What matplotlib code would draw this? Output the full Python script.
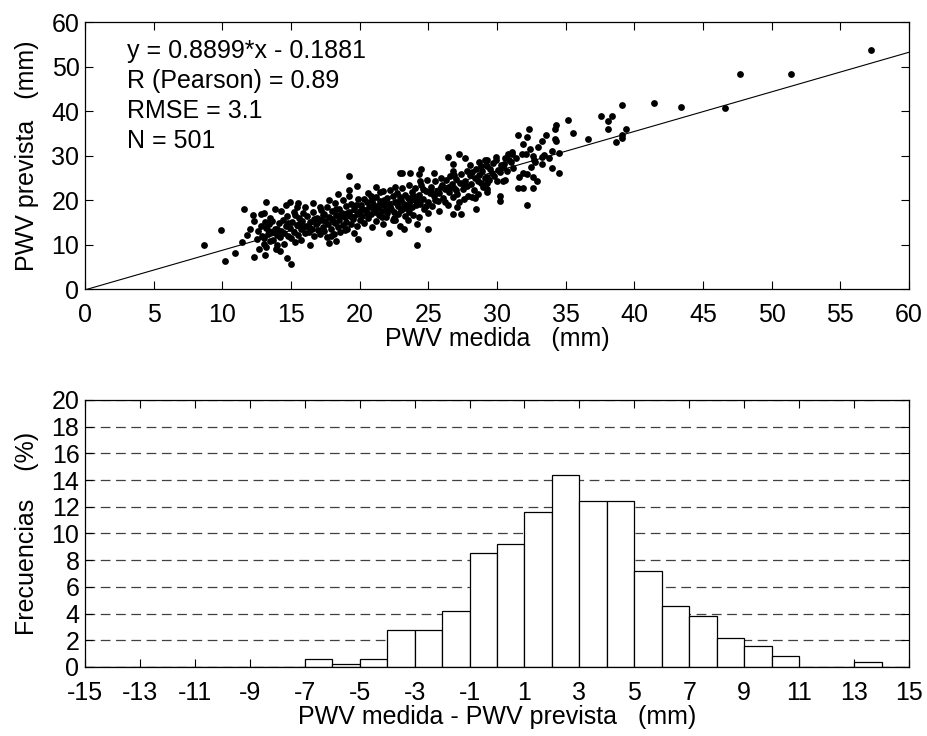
import matplotlib
matplotlib.use("Agg")
import matplotlib.pyplot as plt
import numpy as np

plt.rcParams['font.family'] = ['Liberation Sans', 'DejaVu Sans']
plt.rcParams['font.size'] = 18
plt.rcParams['lines.scale_dashes'] = False
plt.rcParams['axes.unicode_minus'] = False

# valores (PWV medida, PWV prevista) en mm
pwv_medida = [
    8.7, 9.9, 10.2, 10.9, 11.6, 11.4, 11.8, 12.0, 12.2, 12.3, 12.3, 12.7, 13.0, 13.1, 13.0, 13.1, 13.2,
    12.5, 12.6, 12.8, 12.9, 13.0, 13.2, 13.3, 13.4, 13.5, 13.5, 13.6, 13.7, 13.8, 13.8, 13.9, 14.0,
    14.0, 14.1, 14.2, 14.3, 14.3, 14.4, 14.5, 14.5, 14.6, 14.7, 14.7, 14.8, 14.9, 14.9, 15.0, 15.0,
    15.1, 15.2, 15.2, 15.3, 15.4, 15.4, 15.5, 15.5, 15.6, 15.7, 15.7, 15.8, 15.9, 15.9, 16.0, 16.0,
    13.6, 14.2, 13.2, 14.6, 12.8, 15.3, 14.0, 13.4, 14.8, 15.6,
    16.4, 17.8, 18.3, 19.9, 19.2, 19.8, 19.2, 18.4, 16.6, 17.1, 17.8,
    16.1, 16.2, 16.3, 16.4, 16.5, 16.6, 16.7, 16.8, 16.9, 17.0, 17.0, 17.1, 17.2, 17.3, 17.3, 17.4,
    17.5, 17.6, 17.6, 17.7, 17.8, 17.9, 18.0, 18.0, 18.1, 18.2, 18.2, 18.3, 18.4, 18.5, 18.5, 18.6,
    18.7, 18.8, 18.8, 18.9, 19.0, 19.0, 19.1, 19.2, 19.2, 19.3, 19.4, 19.4, 19.5, 19.6, 19.6, 19.7,
    19.8, 19.8, 19.9, 20.0, 20.0, 16.3, 16.9, 17.4, 18.1, 18.6, 19.1, 19.5, 17.2, 18.3, 16.7, 17.9, 18.9,
    21.2, 21.7, 20.6, 22.6, 22.9, 22.1, 22.6, 23.2, 23.5, 24.2, 24.3, 24.2, 23.1, 23.7, 24.5, 24.3,
    20.1, 20.2, 20.3, 20.3, 20.4, 20.5, 20.6, 20.7, 20.8, 20.8, 20.9, 21.0, 21.1, 21.2, 21.2, 21.3,
    21.4, 21.5, 21.5, 21.6, 21.7, 21.8, 21.9, 22.0, 22.0, 22.1, 22.2, 22.3, 22.4, 22.4, 22.5, 22.6,
    22.7, 22.8, 22.8, 22.9, 23.0, 23.0, 23.1, 23.2, 23.3, 23.3, 23.4, 23.5, 23.6, 23.6, 23.7, 23.8,
    23.8, 23.9, 24.0, 24.0, 24.1, 24.2, 20.5, 21.0, 21.4, 21.9, 22.2, 22.7, 23.1, 23.5, 20.9, 21.8,
    22.9, 20.2, 21.6, 22.5, 23.9,
    25.4, 26.8, 27.8, 27.2, 26.4, 27.7, 26.8, 27.1, 26.8, 27.4, 25.0, 25.0, 28.5, 28.4,
    24.3, 24.4, 24.5, 24.6, 24.7, 24.8, 24.9, 25.0, 25.1, 25.2, 25.3, 25.4, 25.5, 25.6, 25.7, 25.8,
    25.9, 26.0, 26.1, 26.2, 26.3, 26.4, 26.5, 26.6, 26.7, 26.8, 26.9, 27.0, 27.1, 27.2, 27.3, 27.4,
    27.5, 27.6, 27.7, 27.8, 27.9, 28.0, 24.6, 25.2, 25.9, 26.5, 27.0, 27.6, 24.8, 26.2, 25.5, 26.9,
    24.4, 25.8,
    28.7, 29.1, 29.3, 28.8, 29.9, 29.9, 29.3, 30.6, 31.0, 30.4, 30.5, 30.1, 30.2, 30.0, 30.4, 30.6,
    31.6, 31.9, 32.2, 31.5, 31.9, 30.2, 30.2, 32.2, 29.3, 29.3, 29.3, 29.3, 29.4, 31.1, 31.1, 31.8,
    32.1, 31.5, 31.9,
    28.1, 28.2, 28.3, 28.4, 28.5, 28.6, 28.7, 28.8, 28.9, 29.0, 29.1, 29.5, 29.6, 29.7, 29.8, 30.3,
    30.7, 30.8, 31.2, 31.4, 28.2, 28.6, 29.2, 30.9, 28.0,
    32.3, 32.2, 33.6, 33.3, 34.2, 34.3, 34.0, 34.5, 32.6, 32.7, 33.3, 33.4, 33.3, 32.8, 34.0, 34.5,
    32.6, 32.9, 32.6, 34.3, 34.2, 35.2, 35.5, 36.6, 32.4, 33.0, 32.5, 33.8,
    37.6, 38.4, 38.1, 38.1, 39.4, 39.1, 39.1, 38.7, 39.1, 41.4, 43.4, 46.6, 47.7, 51.4, 57.2,
]
pwv_prevista = [
    9.9, 13.3, 6.4, 8.2, 17.9, 10.5, 12.1, 13.6, 16.6, 15.3, 7.3, 8.9, 10.1, 7.6, 17.0, 15.1, 19.6,
    11.2, 13.0, 14.2, 12.0, 11.5, 13.8, 12.4, 14.6, 10.8, 16.0, 12.9, 11.0, 17.9, 13.5, 9.1, 9.9,
    12.2, 14.9, 11.6, 17.6, 13.1, 15.6, 12.6, 10.2, 14.1, 6.9, 16.4, 12.0, 19.6, 13.7, 5.6, 11.4,
    15.0, 12.8, 17.2, 10.6, 18.5, 14.3, 19.3, 12.1, 16.0, 13.4, 11.0, 15.3, 14.0, 17.1, 18.5, 12.5,
    15.2, 8.6, 9.5, 18.8, 16.8, 16.7, 13.5, 13.0, 14.8, 14.7,
    9.9, 10.3, 10.8, 11.2, 25.4, 23.1, 22.2, 21.3, 19.3, 18.5, 20.0,
    14.2, 16.5, 12.8, 15.1, 13.5, 17.3, 11.9, 14.6, 16.0, 13.2, 15.7, 12.3, 17.8, 14.0, 16.6, 13.0,
    15.2, 11.6, 18.4, 14.5, 16.2, 13.6, 15.7, 17.6, 12.4, 14.8, 19.4, 16.7, 13.9, 15.5, 18.0, 12.9,
    17.1, 14.3, 19.9, 16.1, 15.0, 18.6, 13.5, 17.4, 20.8, 16.5, 14.6, 19.2, 15.8, 17.9, 12.7, 18.8,
    16.9, 14.1, 20.3, 17.5, 15.4, 13.9, 14.9, 16.9, 15.0, 16.3, 17.0, 16.2, 15.4, 17.9, 15.8, 12.0, 13.2,
    22.9, 22.1, 21.6, 23.0, 26.1, 12.5, 15.5, 13.4, 15.5, 14.5, 16.2, 9.9, 26.0, 26.1, 26.9, 25.8,
    18.9, 16.3, 20.2, 14.8, 17.7, 19.5, 15.9, 18.4, 21.0, 16.9, 13.9, 19.2, 17.4, 20.6, 15.3, 18.1,
    16.6, 19.8, 21.7, 17.6, 14.6, 18.8, 16.1, 20.4, 17.1, 19.0, 22.2, 18.0, 15.6, 20.8, 17.4, 19.6,
    21.5, 16.8, 18.6, 14.2, 20.1, 17.8, 22.6, 19.1, 16.3, 21.2, 18.3, 20.5, 17.2, 23.4, 19.7, 18.5,
    21.8, 16.6, 20.0, 22.7, 18.8, 19.9, 17.0, 18.3, 18.9, 17.8, 18.6, 19.3, 18.0, 18.9, 19.9, 20.1,
    20.7, 18.0, 16.2, 16.0, 21.0,
    26.1, 26.6, 26.6, 30.3, 29.6, 29.5, 28.2, 18.5, 16.8, 16.8, 13.6, 17.1, 17.9, 20.5,
    21.1, 19.0, 23.4, 20.3, 17.9, 22.0, 24.6, 19.5, 21.6, 23.0, 18.6, 20.8, 24.2, 22.1, 19.8, 21.5,
    25.0, 23.3, 20.4, 22.5, 24.4, 18.9, 21.7, 25.4, 23.6, 20.6, 22.8, 24.8, 21.4, 19.6, 23.9, 25.9,
    22.4, 20.2, 24.3, 23.1, 21.0, 25.6, 22.5, 21.9, 22.9, 23.0, 22.2, 23.3, 18.7, 19.5, 20.0, 25.7,
    24.3, 17.6,
    28.6, 29.0, 27.6, 27.6, 29.7, 29.1, 29.1, 29.4, 28.6, 27.5, 28.1, 26.7, 26.4, 24.3, 24.3, 24.6,
    25.2, 26.0, 25.8, 22.6, 22.6, 21.0, 19.8, 18.8, 25.2, 23.8, 22.4, 21.9, 24.5, 30.7, 30.3, 30.3,
    30.3, 34.6, 32.5,
    23.5, 26.3, 22.2, 24.9, 27.0, 21.4, 25.6, 23.8, 26.6, 22.9, 25.0, 27.0, 26.0, 28.3, 25.5, 27.9,
    26.5, 30.4, 27.3, 29.5, 20.7, 24.2, 27.8, 28.9, 27.9,
    35.9, 34.2, 34.6, 33.3, 33.7, 33.3, 31.1, 30.5, 29.9, 29.0, 29.7, 30.1, 28.2, 28.6, 27.3, 26.1,
    25.2, 24.3, 22.6, 36.9, 36.0, 38.0, 35.0, 33.7, 31.5, 32.0, 27.5, 29.5,
    38.9, 38.9, 37.7, 36.0, 36.0, 34.7, 33.9, 33.0, 41.4, 41.9, 41.0, 40.6, 48.3, 48.3, 53.8,
]

# recta de regresion indicada en el grafico
pendiente = 0.8899
ordenada = -0.1881

# histograma de diferencias (bordes de clase y frecuencias en %)
bordes = list(range(-15, 15))
frecuencias = [0, 0, 0, 0, 0, 0, 0, 0, 0.6, 0.2, 0.6, 2.8, 2.8, 4.2, 8.5, 9.2, 11.6, 14.4,
               12.4, 12.4, 7.2, 4.6, 3.8, 2.2, 1.6, 0.8, 0, 0, 0.4, 0]

fig = plt.figure(figsize=(9.27, 7.36), dpi=100)

# --- dispersion ---
ax1 = fig.add_axes([0.0917, 0.6073, 0.8889, 0.3628])
ax1.scatter(pwv_medida, pwv_prevista, s=24, c='black', linewidths=0)
xr = np.array([0, 60])
ax1.plot(xr, pendiente * xr + ordenada, color='black', lw=0.8)
ax1.set_xlim(0, 60)
ax1.set_ylim(0, 60)
ax1.set_xticks(range(0, 61, 5))
ax1.set_yticks(range(0, 61, 10))
ax1.set_xlabel('PWV medida   (mm)', labelpad=0)
ax1.set_ylabel('PWV prevista   (mm)', labelpad=9)
texto = ['y = 0.8899*x - 0.1881', 'R (Pearson) = 0.89', 'RMSE = 3.1', 'N = 501']
for i, t in enumerate(texto):
    ax1.text(0.051, 0.89 - i * 0.1125, t, transform=ax1.transAxes, va='center', ha='left')

# --- histograma ---
ax2 = fig.add_axes([0.0917, 0.0938, 0.8889, 0.3628])
ax2.bar(bordes, frecuencias, width=1, align='edge', color='white', edgecolor='black', lw=0.9, zorder=2)
ax2.set_xlim(-15, 15)
ax2.set_ylim(0, 20)
ax2.set_xticks(range(-15, 16, 2))
ax2.set_yticks(range(0, 21, 2))
ax2.set_axisbelow(True)
ax2.yaxis.grid(True, color='0.25', lw=0.9, linestyle=(0, (7, 4)))
ax2.set_xlabel('PWV medida - PWV prevista   (mm)', labelpad=0)
ax2.set_ylabel('Frecuencias    (%)', labelpad=9)

for ax in (ax1, ax2):
    ax.tick_params(direction='in', top=True, right=True, length=6, width=0.8, pad=4)
    ax.tick_params(axis='x', pad=10)
    for sp in ax.spines.values():
        sp.set_linewidth(0.9)

fig.savefig('out.png', dpi=100)
